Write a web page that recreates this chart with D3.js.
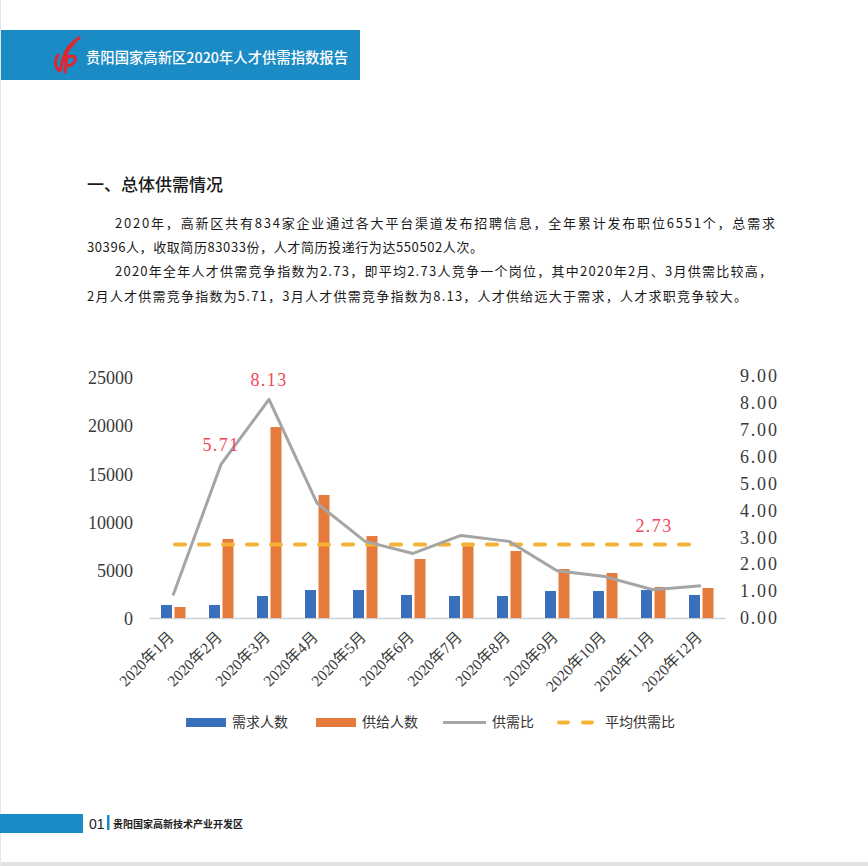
<!DOCTYPE html>
<html><head><meta charset="utf-8">
<script src="https://cdn.jsdelivr.net/npm/d3@7/dist/d3.min.js"></script>
<style>
html,body{margin:0;padding:0;background:#fff;}
svg{display:block;}
</style></head>
<body>
<script>
const months = ["2020年1月","2020年2月","2020年3月","2020年4月","2020年5月","2020年6月","2020年7月","2020年8月","2020年9月","2020年10月","2020年11月","2020年12月"];
const demand = [1350,1350,2280,2900,2900,2390,2280,2280,2800,2800,2900,2390];
const supply = [1140,8200,19800,12760,8500,6120,7450,6950,5080,4670,3215,3110];
const ratio  = [0.84,5.71,8.13,4.27,2.85,2.40,3.07,2.85,1.76,1.54,1.05,1.20];
const avgRatio = 2.73;
const leftTicks = [0,5000,10000,15000,20000,25000];
const rightTicks = [0,1,2,3,4,5,6,7,8,9];
const labelled = ["2020年2月","2020年3月"];
const seriesNames = ["需求人数","供给人数","供需比","平均供需比"];
const title = "贵阳国家高新区2020年人才供需指数报告";
const heading = "一、总体供需情况";
const paraLines = [
 "2020年，高新区共有834家企业通过各大平台渠道发布招聘信息，全年累计发布职位6551个，总需求",
 "30396人，收取简历83033份，人才简历投递行为达550502人次。",
 "2020年全年人才供需竞争指数为2.73，即平均2.73人竞争一个岗位，其中2020年2月、3月供需比较高，",
 "2月人才供需竞争指数为5.71，3月人才供需竞争指数为8.13，人才供给远大于需求，人才求职竞争较大。"
];
const footerNum = "01";
const footerText = "贵阳国家高新技术产业开发区";

const W=868,H=866;
const BLUE="#1b8bc6", CBLUE="#3a70bb", CORANGE="#e57a3c", CGRAY="#a5a5a5", CYEL="#f5b335", CRED="#f0465a";
const CJK = "'Noto Sans CJK SC','Noto Sans',sans-serif";
const SERIF = "'Liberation Serif','Noto Sans CJK SC',serif";

const svg = d3.select("body").append("svg").attr("width",W).attr("height",H);
svg.append("rect").attr("width",W).attr("height",H).attr("fill","#fff");
// page edges
svg.append("rect").attr("x",0).attr("y",862).attr("width",W).attr("height",4).attr("fill","#e2e2e2");
svg.append("rect").attr("x",0).attr("y",0).attr("width",1).attr("height",H).attr("fill","#e6e6e6");

// header
svg.append("rect").attr("x",1).attr("y",30).attr("width",359).attr("height",50).attr("fill",BLUE);
const logo = svg.append("g").attr("transform","translate(54,38)").attr("fill","none").attr("stroke","#e1262d").attr("stroke-linecap","round");
logo.append("path").attr("d","M25 0 C15 7 9 14 7 31").attr("stroke-width",3.2);
logo.append("path").attr("d","M20 6 C13 12 11 18 11 24").attr("stroke-width",2.2);
logo.append("path").attr("d","M4 17 C0 23 1 30 6 33").attr("stroke-width",3);
logo.append("path").attr("d","M13 18 L11 34").attr("stroke-width",3);
logo.append("path").attr("d","M14 19 C23 15 25 25 14 28").attr("stroke-width",3);
svg.append("text").attr("x",86).attr("y",63).attr("fill","#fff").attr("font-family",CJK).attr("font-size",14.5).attr("font-weight",500)
  .attr("textLength",262).attr("lengthAdjust","spacingAndGlyphs").text(title);

// heading & paragraph
svg.append("text").attr("x",87).attr("y",191).attr("fill","#1a1a1a").attr("font-family",CJK).attr("font-size",17).attr("font-weight",500).text(heading);
const lineSpec = [[115,228,660],[87,252,396],[115,276,657],[87,301,660]];
paraLines.forEach((t,i)=>{
  svg.append("text").attr("x",lineSpec[i][0]).attr("y",lineSpec[i][1]).attr("fill","#1a1a1a")
    .attr("font-family",CJK).attr("font-size",13)
    .attr("textLength",lineSpec[i][2]).attr("lengthAdjust","spacing").text(t);
});

// chart
const x = d3.scaleBand().domain(months).range([149,725]);
const yL = d3.scaleLinear().domain([0,25000]).range([618,377]);
const yR = d3.scaleLinear().domain([0,9]).range([618,376]);
const cx = m => x(m)+x.bandwidth()/2;
const bw = 11;

// left axis labels
const gL = svg.append("g").attr("transform","translate(133,1)")
  .call(d3.axisLeft(yL).tickValues(leftTicks).tickSize(0).tickPadding(0).tickFormat(d3.format("d")));
gL.select(".domain").remove();
gL.selectAll("text").attr("font-family",SERIF).attr("font-size",18).attr("fill","#3a3a3a");
// right axis labels
const gR = svg.append("g").attr("transform","translate(740,0)")
  .call(d3.axisRight(yR).tickValues(rightTicks).tickSize(0).tickPadding(0).tickFormat(d3.format(".2f")));
gR.select(".domain").remove();
gR.selectAll("text").attr("font-family",SERIF).attr("font-size",18).attr("fill","#3a3a3a").attr("letter-spacing",1.8);

// x axis
const gX = svg.append("g").attr("transform","translate(0,618)")
  .call(d3.axisBottom(x).tickSize(0).tickFormat(()=>""));
gX.select(".domain").attr("stroke","#d0d0d0").attr("stroke-width",1.5);
svg.append("g").selectAll("text").data(months).join("text")
  .attr("transform",d=>`translate(${cx(d)+2},638) rotate(-45)`)
  .attr("text-anchor","end").attr("font-family",SERIF).attr("font-size",15.5).attr("fill","#3a3a3a")
  .text(d=>d);

// bars
svg.append("g").selectAll("rect").data(months).join("rect")
  .attr("x",d=>cx(d)-bw-1).attr("width",bw)
  .attr("y",(d,i)=>yL(demand[i])).attr("height",(d,i)=>yL(0)-yL(demand[i])).attr("fill",CBLUE);
svg.append("g").selectAll("rect").data(months).join("rect")
  .attr("x",d=>cx(d)+1.5).attr("width",bw)
  .attr("y",(d,i)=>yL(supply[i])).attr("height",(d,i)=>yL(0)-yL(supply[i])).attr("fill",CORANGE);

// average dashed line
svg.append("line").attr("x1",cx(months[0])).attr("x2",cx(months[11])-4)
  .attr("y1",yR(avgRatio)).attr("y2",yR(avgRatio))
  .attr("stroke",CYEL).attr("stroke-width",4).attr("stroke-linecap","round")
  .attr("stroke-dasharray","10,14").attr("transform","translate(2,0)");

// ratio line
svg.append("path").datum(ratio)
  .attr("d",d3.line().x((d,i)=>cx(months[i])).y(d=>yR(d)))
  .attr("fill","none").attr("stroke",CGRAY).attr("stroke-width",3).attr("stroke-linejoin","round");

// annotations
const ann = months.map((m,i)=>({m,v:ratio[i]})).filter(d=>labelled.includes(d.m));
svg.append("g").selectAll("text").data(ann).join("text")
  .attr("x",d=>cx(d.m)).attr("y",d=>yR(d.v)-13).attr("text-anchor","middle")
  .attr("font-family",SERIF).attr("font-size",18).attr("fill",CRED).attr("letter-spacing",1.4)
  .text(d=>d3.format(".2f")(d.v));
svg.append("text").attr("x",cx(months[10])+1).attr("y",yR(avgRatio)-13).attr("text-anchor","middle")
  .attr("font-family",SERIF).attr("font-size",18).attr("fill",CRED).attr("letter-spacing",1.4)
  .text(d3.format(".2f")(avgRatio));

// legend
const lg = svg.append("g").attr("font-family",CJK).attr("font-size",14).attr("fill","#333");
lg.append("rect").attr("x",186).attr("y",718).attr("width",40).attr("height",9).attr("fill",CBLUE);
lg.append("text").attr("x",232).attr("y",727).text(seriesNames[0]);
lg.append("rect").attr("x",316).attr("y",718).attr("width",40).attr("height",9).attr("fill",CORANGE);
lg.append("text").attr("x",362).attr("y",727).text(seriesNames[1]);
lg.append("line").attr("x1",443).attr("x2",486).attr("y1",722.5).attr("y2",722.5).attr("stroke",CGRAY).attr("stroke-width",3);
lg.append("text").attr("x",492).attr("y",727).text(seriesNames[2]);
lg.append("line").attr("x1",559).attr("x2",594).attr("y1",722.5).attr("y2",722.5).attr("stroke",CYEL).attr("stroke-width",4)
  .attr("stroke-linecap","round").attr("stroke-dasharray","9,15");
lg.append("text").attr("x",605).attr("y",727).text(seriesNames[3]);

// footer
svg.append("rect").attr("x",0).attr("y",814).attr("width",83).attr("height",19).attr("fill",BLUE);
svg.append("text").attr("x",89).attr("y",829).attr("font-family","'Liberation Sans',Arial,sans-serif").attr("font-size",14).attr("fill","#222").text(footerNum);
svg.append("rect").attr("x",107).attr("y",815).attr("width",2.5).attr("height",15).attr("fill",BLUE);
svg.append("text").attr("x",113).attr("y",828).attr("font-family",CJK).attr("font-size",10).attr("font-weight",700).attr("fill","#222").text(footerText);
</script>
</body></html>
